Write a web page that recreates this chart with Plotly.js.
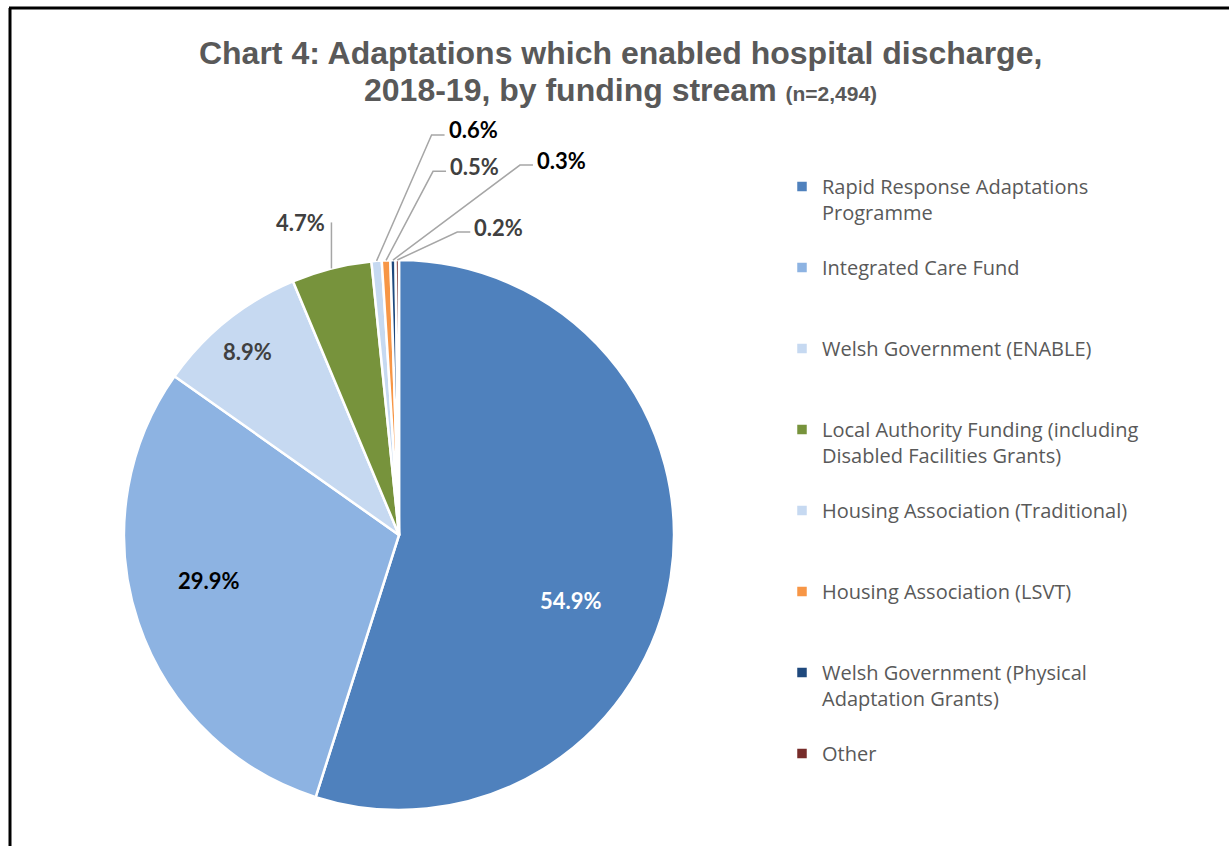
<!DOCTYPE html>
<html>
<head>
<meta charset="utf-8">
<script src="https://cdn.plot.ly/plotly-3.0.1.min.js"></script>
<style>
  body { margin: 0; background: #fff; }
  #chart { width: 1229px; height: 846px; }
</style>
</head>
<body>
<div id="chart"></div>
<script>
// Funding streams, in the order they run round the pie (clockwise from 12 o'clock)
var fundingStreams = [
  'Rapid Response Adaptations<br>Programme',
  'Integrated Care Fund',
  'Welsh Government (ENABLE)',
  'Local Authority Funding (including<br>Disabled Facilities Grants)',
  'Housing Association (Traditional)',
  'Housing Association (LSVT)',
  'Welsh Government (Physical<br>Adaptation Grants)',
  'Other'
];
var sharePct = [54.9, 29.9, 8.9, 4.7, 0.6, 0.5, 0.3, 0.2];
var sliceColours = ['#4f81bd', '#8db3e2', '#c6d9f1', '#77933c', '#c6d9f1', '#f79646', '#1f497d', '#772c2a'];
var labelColours = ['#ffffff', '#000000', '#404040', '#404040', '#000000', '#404040', '#000000', '#404040'];

var W = 1229, H = 846;
// pie centre and radius in pixels
var cx = 399, cy = 535, R = 275;

function px(x) { return x / W; }
function py(y) { return 1 - y / H; }

// pad every legend entry to three lines so the entries sit evenly spaced
var legendLabels = fundingStreams.map(function (s) {
  var n = s.split('<br>').length;
  while (n < 3) { s += '<br>\u00a0'; n++; }
  return s;
});

var labelFont = 'Lato, "Open Sans", sans-serif';
var titleFont = { family: '"Liberation Sans", Arial, sans-serif', size: 32, weight: 700, color: '#595959' };

// labels inside the big slices: [fraction of radius, turn in degrees from the mid angle]
var inside = {
  0: [0.67, 12],
  1: [0.71, 5],
  2: [0.865, -1]
};
// leader lines for the slices labelled outside: [dx, dy] to elbow, length of the flat tail
var leaders = {
  3: [0, -46, 0],
  4: [55, -126, 13],
  5: [47, -89, 13],
  6: [127, -95, 13],
  7: [60, -28, 13]
};

var total = sharePct.reduce(function (a, b) { return a + b; }, 0);
var shapes = [
  // chart frame, top and left edges
  { type: 'line', xref: 'paper', yref: 'paper', x0: px(9), x1: 1, y0: py(8), y1: py(8), line: { color: '#000', width: 3 } },
  { type: 'line', xref: 'paper', yref: 'paper', x0: px(10), x1: px(10), y0: py(8), y1: 0, line: { color: '#000', width: 3 } }
];
var annotations = [
  // second line of the title, set a little tighter than a <br> would give
  {
    xref: 'paper', yref: 'paper', x: 0.505, y: py(90), xanchor: 'center', yanchor: 'middle',
    showarrow: false,
    text: '2018-19, by funding stream <span style="font-size:21px">(n=2,494)</span>',
    font: titleFont
  }
];

var cum = 0;
sharePct.forEach(function (v, i) {
  var midDeg = (cum + v / 2) / total * 360;
  cum += v;
  var label = v.toFixed(1) + '%';
  var font = { family: labelFont, size: 22, weight: 700, color: labelColours[i] };

  if (inside[i]) {
    var a = (midDeg + inside[i][1]) * Math.PI / 180;
    var r = R * inside[i][0];
    annotations.push({
      xref: 'paper', yref: 'paper',
      x: px(cx + r * Math.sin(a)), y: py(cy - r * Math.cos(a)),
      xanchor: 'center', yanchor: 'middle',
      showarrow: false, text: label, font: font
    });
    return;
  }

  var m = midDeg * Math.PI / 180;
  var ex = cx + R * Math.sin(m), ey = cy - R * Math.cos(m);
  var l = leaders[i];
  var bx = ex + l[0], by = ey + l[1];
  var tx = bx + l[2];
  shapes.push({
    type: 'path', xref: 'paper', yref: 'paper',
    path: 'M' + px(ex) + ',' + py(ey) + 'L' + px(bx) + ',' + py(by) + 'L' + px(tx) + ',' + py(by),
    line: { color: '#a6a6a6', width: 1.5 }
  });
  var vertical = l[2] === 0;
  annotations.push({
    xref: 'paper', yref: 'paper',
    x: px(vertical ? tx - 4 : tx + 2),
    y: py(by - (vertical ? 0 : 5)),
    xanchor: vertical ? 'right' : 'left', yanchor: 'middle',
    showarrow: false, text: label, font: font
  });
});

var trace = [{
  type: 'pie',
  labels: legendLabels,
  values: sharePct,
  sort: false,
  direction: 'clockwise',
  rotation: 0,
  domain: { x: [px(cx - R), px(cx + R)], y: [py(cy + R), py(cy - R)] },
  marker: { colors: sliceColours, line: { color: '#ffffff', width: 2.5 } },
  textinfo: 'none',
  hoverinfo: 'skip'
}];

var layout = {
  width: W,
  height: H,
  margin: { l: 0, r: 0, t: 0, b: 0 },
  paper_bgcolor: '#ffffff',
  title: {
    text: 'Chart 4: Adaptations which enabled hospital discharge,',
    font: titleFont,
    x: 0.505,
    xanchor: 'center',
    y: py(53),
    yanchor: 'middle'
  },
  showlegend: true,
  legend: {
    x: px(782),
    y: py(167),
    xanchor: 'left',
    yanchor: 'top',
    valign: 'top',
    traceorder: 'normal',
    font: { family: '"Open Sans", sans-serif', size: 20, color: '#595959' },
    bgcolor: 'rgba(0,0,0,0)'
  },
  shapes: shapes,
  annotations: annotations
};

Plotly.newPlot('chart', trace, layout, { staticPlot: true });
</script>
</body>
</html>
